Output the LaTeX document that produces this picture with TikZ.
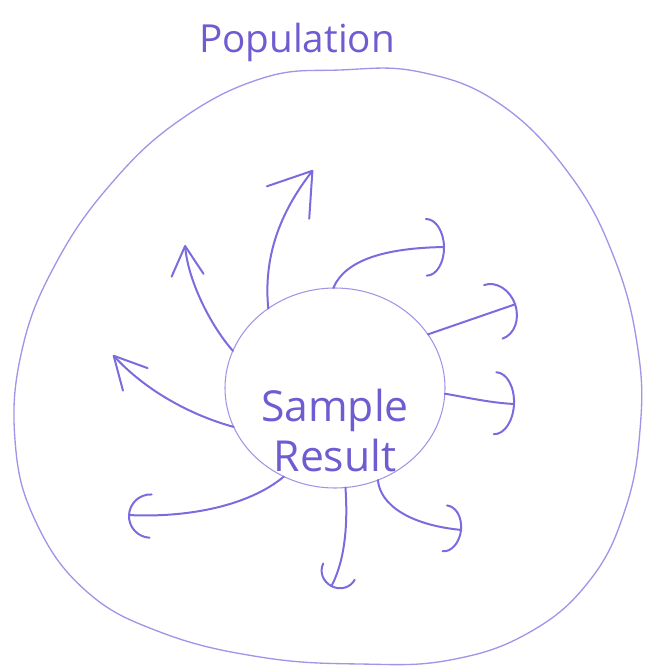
\documentclass[tikz,border=0pt]{standalone}
\usepackage{fontspec}
\setmainfont{Open Sans}
\usepackage{tikz}
\usetikzlibrary{arrows.meta, shapes.geometric}
\definecolor{pen}{RGB}{122,108,222}
\definecolor{inkdark}{RGB}{112,92,208}
\definecolor{penlight}{RGB}{160,150,232}
\tikzset{
  outline/.style={draw=penlight, line width=1pt},
  spoke/.style={draw=pen, line width=1.5pt, line cap=round},
  chevron/.style 2 args={spoke, -{Straight Barb[length=#1, width=#2, round]}},
  arc head/.style 2 args={spoke, -{Arc Barb[length=#1, width=#2, round]}},
  title/.style={font=\fontsize{29}{34}\selectfont, text=inkdark, inner sep=0pt},
  label text/.style={font=\fontsize{32}{37.5}\selectfont, text=inkdark, align=center, inner sep=0pt},
}

\begin{document}
\begin{tikzpicture}[x=0.75pt, y=-0.75pt]
  \useasboundingbox (0,0) rectangle (648,666);

  % Population
  \draw[outline] plot[smooth cycle, tension=0.7] coordinates {
    (263,78) (340,70) (420,72) (500,104) (570,175) (615,260) (638,350)
    (640,430) (625,510) (590,580) (530,632) (450,660) (360,664) (260,657)
    (160,632) (85,590) (35,520) (15,440) (22,350) (55,265) (110,185) (180,120)
  };
  \node[title] (population) at (297,42) {Population};

  % Sample
  \node[ellipse, draw=penlight, line width=0.8pt, outer sep=0pt,
        minimum width=165pt, minimum height=150pt] (sample) at (335,388) {};
  \node[label text] (result) at (335,430) {Sample\\Result};

  % Tips
  \coordinate (tipA) at (185,245);
  \coordinate (tipB) at (313,170);
  \coordinate (tipC) at (445,247);
  \coordinate (tipD) at (516,304);
  \coordinate (tipE) at (515,404);
  \coordinate (tipF) at (462,530);
  \coordinate (tipG) at (331,587);
  \coordinate (tipH) at (128,515);
  \coordinate (tipI) at (113,355);

  % Arrows
  \draw[chevron={22pt}{24pt}] (sample.160) .. controls (210,325) and (188,280) .. (tipA);
  \draw[chevron={30pt}{40pt}] (sample.130) .. controls (262,245) and (290,200) .. (tipB);
  \draw[arc head={14pt}{44pt}] (sample.91) .. controls (345,260) and (385,248) .. (tipC);
  \draw[arc head={18pt}{44pt}] (sample.30) -- (tipD);
  \draw[arc head={15pt}{48pt}] (sample.-3) .. controls (460,396) and (490,403) .. (tipE);
  \draw[arc head={13pt}{36pt}] (sample.-65) .. controls (380,505) and (410,525) .. (tipF);
  \draw[arc head={13pt}{28pt}] (sample.-84) .. controls (348,525) and (345,560) .. (tipG);
  \draw[arc head={17pt}{34pt}] (sample.-120) .. controls (250,505) and (190,518) .. (tipH);
  \draw[chevron={24pt}{25pt}] (sample.201) .. controls (190,415) and (145,390) .. (tipI);

\end{tikzpicture}
\end{document}
